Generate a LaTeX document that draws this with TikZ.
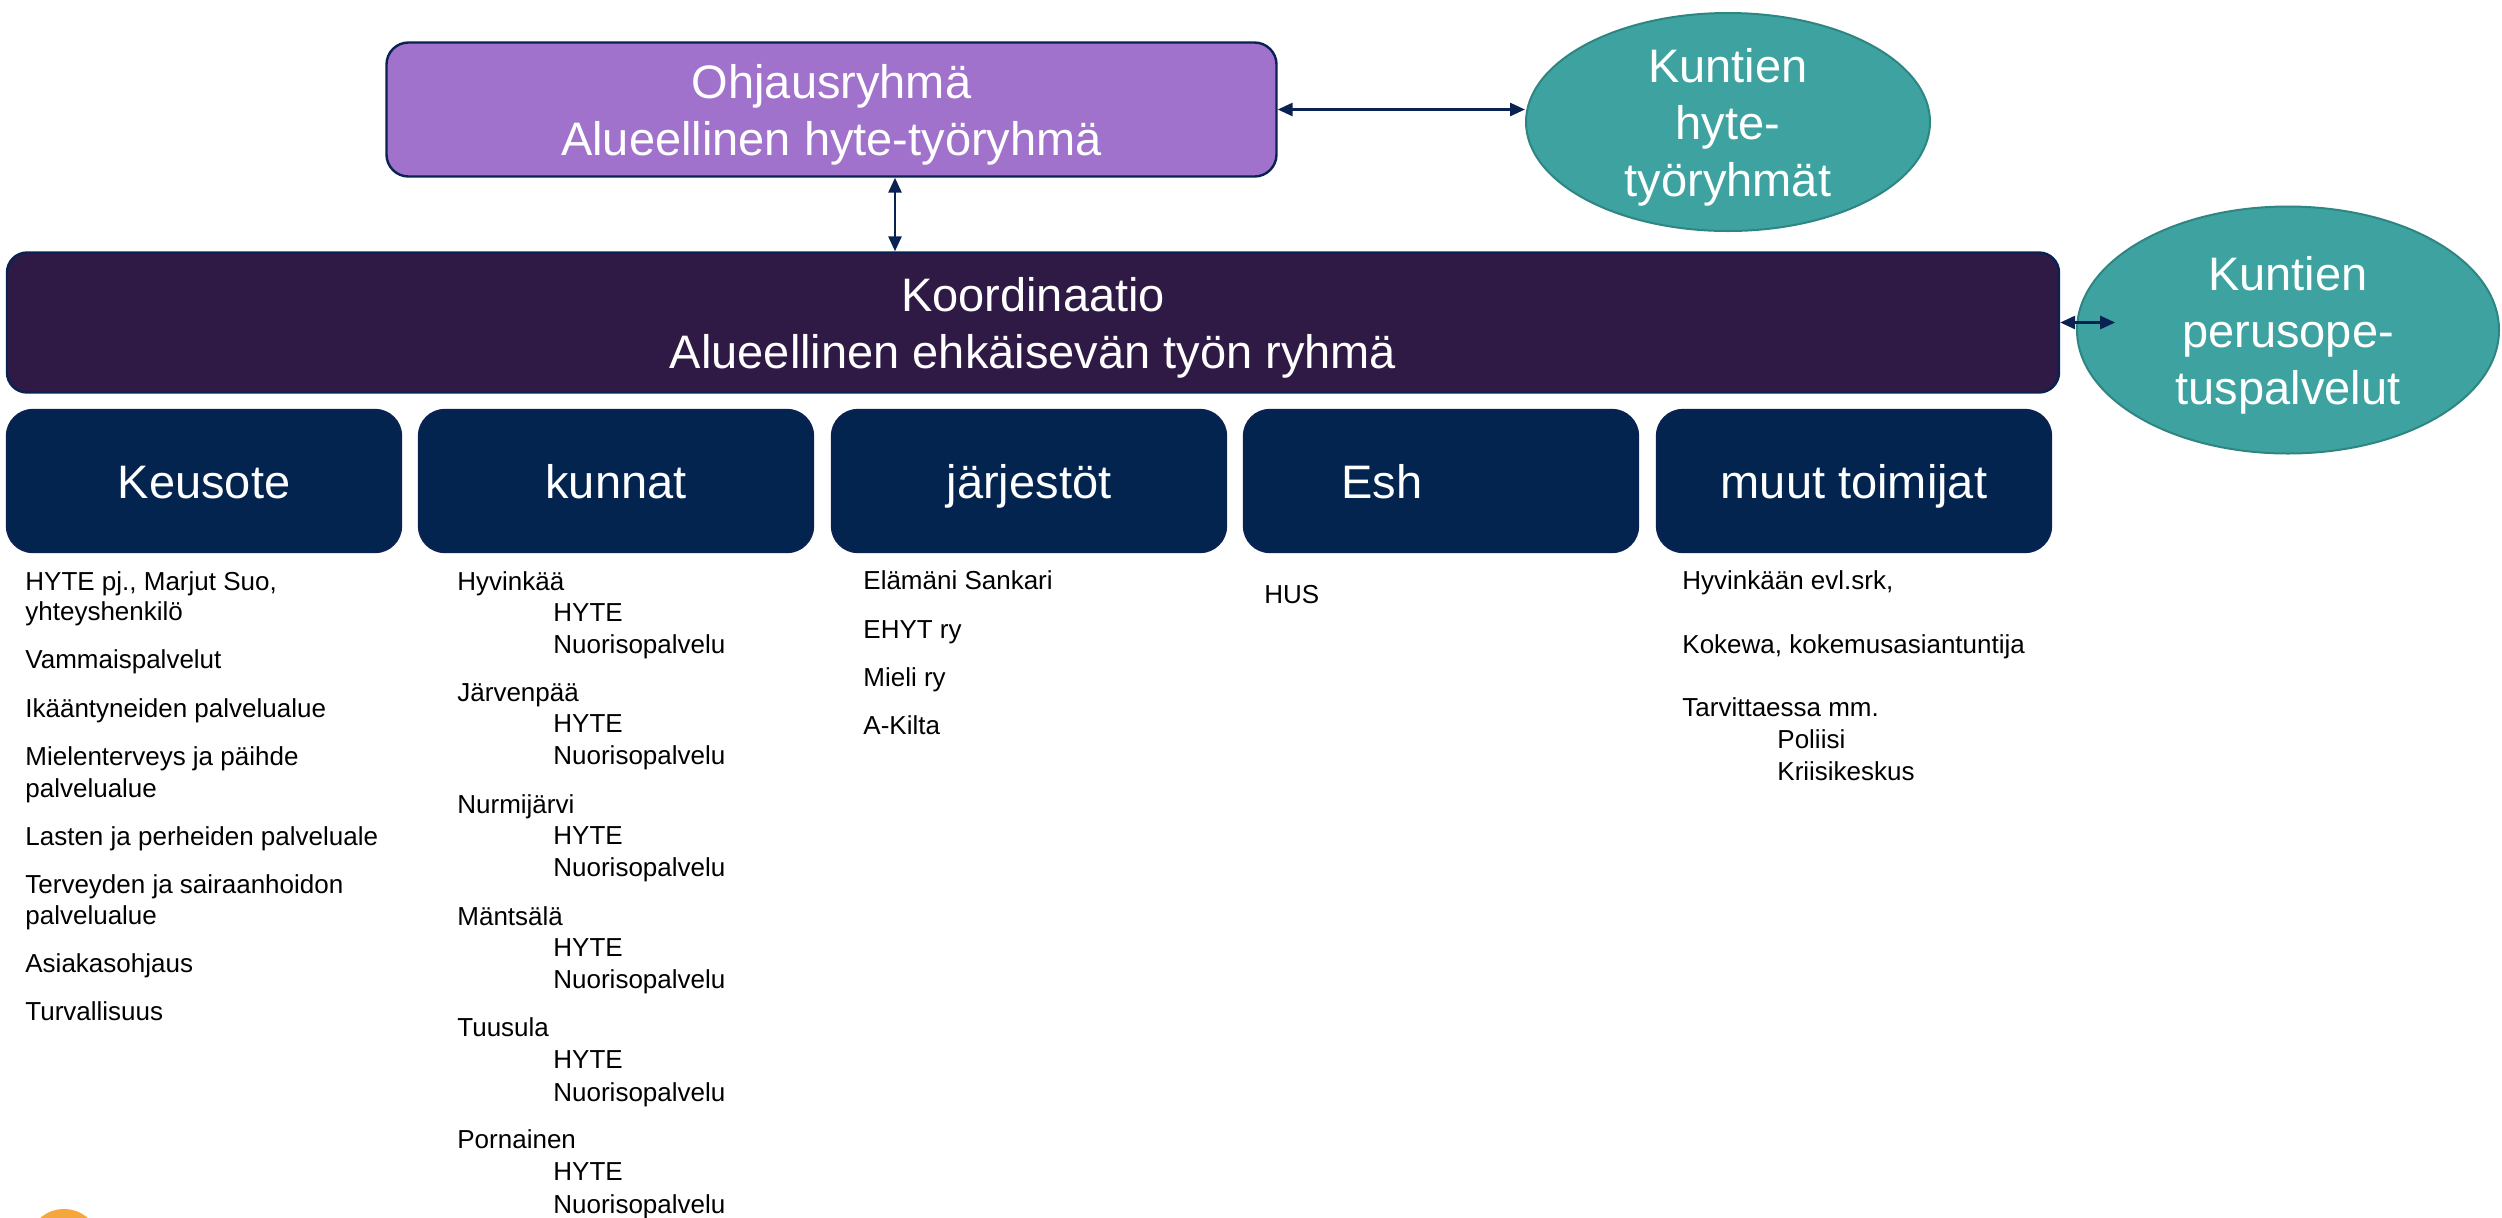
\documentclass[tikz,border=0pt]{standalone}
\usepackage{fontspec}
\setmainfont{Liberation Sans}
\usetikzlibrary{arrows.meta,shapes.geometric}
\definecolor{ohjc}{HTML}{A072CB}
\definecolor{koordc}{HTML}{2F1A45}
\definecolor{catc}{HTML}{03244F}
\definecolor{tealc}{HTML}{3EA3A0}
\definecolor{tealb}{HTML}{2E8582}
\definecolor{navy}{HTML}{0A2252}
\definecolor{orangec}{HTML}{F5A63C}
\begin{document}
\begin{tikzpicture}[x=0.5pt,y=-0.5pt,
 box/.style={draw=navy,line width=1.2pt,rounded corners=11pt,text=white,align=center,inner sep=0pt,font=\fontsize{23.5}{28.5}\selectfont},
 catbox/.style={box,fill=catc,minimum width=197pt,minimum height=71pt,rounded corners=13pt,text height=17pt,text depth=0pt},
 ell/.style={ellipse,draw=tealb,line width=1pt,fill=tealc,text=white,align=center,inner sep=0pt,font=\fontsize{23.5}{28.5}\selectfont},
 item/.style={anchor=mid west,inner sep=0pt,yshift=-3pt,font=\fontsize{13}{15.5}\selectfont,text=black},
 arr/.style={draw=navy,line width=1.4pt,{Triangle[length=7.5pt,width=6.5pt]}-{Triangle[length=7.5pt,width=6.5pt]}}
]
\useasboundingbox (0,0) rectangle (2502,1217);
\fill[white] (0,0) rectangle (2502,1217);

% main boxes
\node[box,fill=ohjc,minimum width=445pt,minimum height=67pt,text depth=-1pt] (ohj) at (831.5,109.5) {Ohjausryhmä\\Alueellinen hyte-työryhmä};
\node[box,fill=koordc,minimum width=1026pt,minimum height=70pt,rounded corners=10pt,text depth=-1pt] (koord) at (1033,322.5) {Koordinaatio\\Alueellinen ehkäisevän työn ryhmä};
\node[ell,minimum width=202pt,minimum height=109pt,text depth=-1pt] (e1) at (1728,122) {Kuntien\\hyte-\\työryhmät};
\node[ell,minimum width=211pt,minimum height=123.5pt,text depth=-1pt] (e2) at (2288,330) {Kuntien\\perusope-\\tuspalvelut};

% category boxes
\node[catbox] (keu) at (204,481) {Keusote};
\node[catbox] (kun) at (616,481) {kunnat};
\node[catbox] (jar) at (1029,481) {järjestöt};
\node[catbox] (esh) at (1441,481) {Esh\hspace*{59pt}};
\node[catbox] (muu) at (1854,481) {muut toimijat};

% connectors
\draw[arr] (ohj.east) -- (ohj.east -| e1.west);
\coordinate (vtop) at ([xshift=31.75pt]ohj.south);
\draw[arr] (vtop) -- (vtop |- koord.north);
\coordinate (p2) at ([xshift=27.5pt]koord.east);
\draw[arr] (koord.east) -- (p2);

% Keusote list
\node[item] (a1) at (25,579) {HYTE pj., Marjut Suo,};
\node[item] (a2) at (25,609) {yhteyshenkilö};
\node[item] (a3) at (25,657) {Vammaispalvelut};
\node[item] (a4) at (25,706) {Ikääntyneiden palvelualue};
\node[item] (a5) at (25,754) {Mielenterveys ja päihde};
\node[item] (a6) at (25,786) {palvelualue};
\node[item] (a7) at (25,834) {Lasten ja perheiden palveluale};
\node[item] (a8) at (25,882) {Terveyden ja sairaanhoidon};
\node[item] (a9) at (25,913) {palvelualue};
\node[item] (a10) at (25,961) {Asiakasohjaus};
\node[item] (a11) at (25,1009) {Turvallisuus};

% kunnat list
\node[item] (b1) at (457,579) {Hyvinkää};
\node[item] (b2) at (553,610) {HYTE};
\node[item] (b3) at (553,642) {Nuorisopalvelu};
\node[item] (b4) at (457,690) {Järvenpää};
\node[item] (b5) at (553,721) {HYTE};
\node[item] (b6) at (553,753) {Nuorisopalvelu};
\node[item] (b7) at (457,802) {Nurmijärvi};
\node[item] (b8) at (553,833) {HYTE};
\node[item] (b9) at (553,865) {Nuorisopalvelu};
\node[item] (b10) at (457,914) {Mäntsälä};
\node[item] (b11) at (553,945) {HYTE};
\node[item] (b12) at (553,977) {Nuorisopalvelu};
\node[item] (b13) at (457,1025) {Tuusula};
\node[item] (b14) at (553,1057) {HYTE};
\node[item] (b15) at (553,1090) {Nuorisopalvelu};
\node[item] (b16) at (457,1137) {Pornainen};
\node[item] (b17) at (553,1169) {HYTE};
\node[item] (b18) at (553,1202) {Nuorisopalvelu};

% järjestöt list
\node[item] (c1) at (863,578) {Elämäni Sankari};
\node[item] (c2) at (863,627) {EHYT ry};
\node[item] (c3) at (863,675) {Mieli ry};
\node[item] (c4) at (863,723) {A-Kilta};

% Esh list
\node[item] (d1) at (1264,592) {HUS};

% muut toimijat list
\node[item] (f1) at (1682,578) {Hyvinkään evl.srk,};
\node[item] (f2) at (1682,642) {Kokewa, kokemusasiantuntija};
\node[item] (f3) at (1682,705) {Tarvittaessa mm.};
\node[item] (f4) at (1777,737) {Poliisi};
\node[item] (f5) at (1777,769) {Kriisikeskus};

% orange partial circle at bottom left
\begin{scope}
\clip (0,0) rectangle (2502,1217);
\fill[orangec] (64,1245) circle[radius=36];
\end{scope}
\end{tikzpicture}
\end{document}
